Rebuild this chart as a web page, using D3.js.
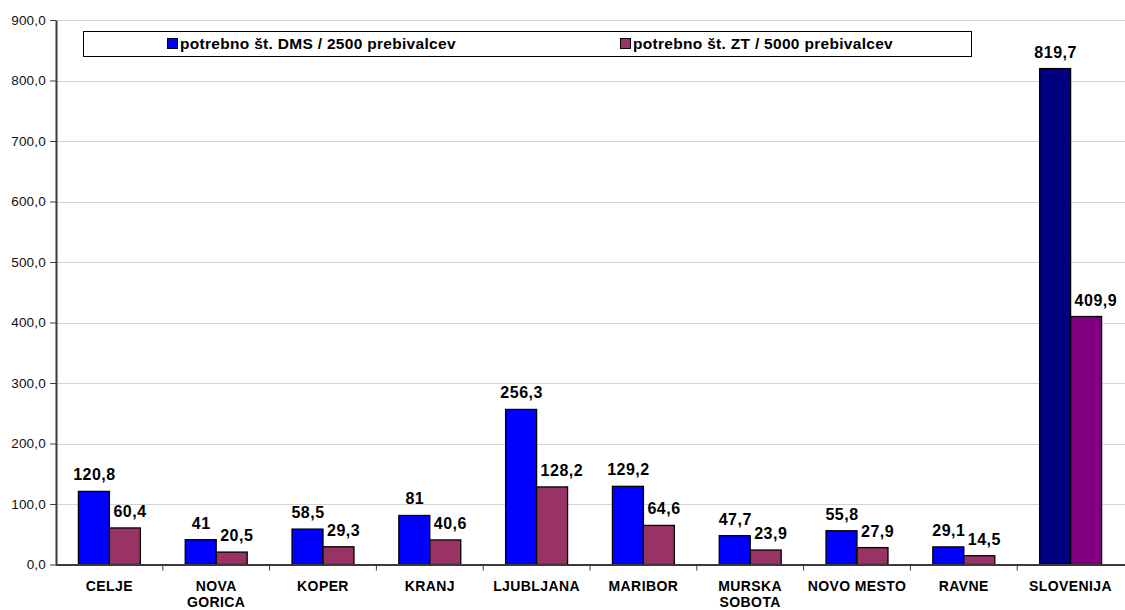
<!DOCTYPE html>
<html>
<head>
<meta charset="utf-8">
<script src="https://cdn.jsdelivr.net/npm/d3@7"></script>
<style>
  html, body { margin: 0; padding: 0; background: #fff; }
  svg { display: block; font-family: "Liberation Sans", Arial, sans-serif; }
</style>
</head>
<body>
<svg id="chart" width="1125" height="610"></svg>
<script>
// Regions and the two indicators per region
const categories = ["CELJE", "NOVA GORICA", "KOPER", "KRANJ", "LJUBLJANA", "MARIBOR", "MURSKA SOBOTA", "NOVO MESTO", "RAVNE", "SLOVENIJA"];
const dmsValues = [120.8, 41, 58.5, 81, 256.3, 129.2, 47.7, 55.8, 29.1, 819.7];
const ztValues  = [60.4, 20.5, 29.3, 40.6, 128.2, 64.6, 23.9, 27.9, 14.5, 409.9];
const dmsLabels = ["120,8", "41", "58,5", "81", "256,3", "129,2", "47,7", "55,8", "29,1", "819,7"];
const ztLabels  = ["60,4", "20,5", "29,3", "40,6", "128,2", "64,6", "23,9", "27,9", "14,5", "409,9"];
const seriesNames = ["potrebno št. DMS / 2500 prebivalcev", "potrebno št. ZT / 5000 prebivalcev"];
const yTicks = [0, 100, 200, 300, 400, 500, 600, 700, 800, 900];

const svg = d3.select("#chart");
const margin = { left: 56, right: 0, top: 20, bottom: 45 };
const W = 1125, H = 610;
const plotW = W - margin.left - margin.right - 1;

const x = d3.scaleBand().domain(categories).range([margin.left, margin.left + plotW]).paddingInner(0.42).paddingOuter(0.21);
const y = d3.scaleLinear().domain([0, 900]).range([564.5, margin.top]);

const fmt = v => d3.format(".1f")(v).replace(".", ",");

// grid lines
svg.append("g").selectAll("line").data(yTicks.filter(d => d > 0)).join("line")
  .attr("x1", margin.left).attr("x2", W)
  .attr("y1", d => Math.round(y(d)) + 0.5).attr("y2", d => Math.round(y(d)) + 0.5)
  .attr("stroke", "#d4d4d4").attr("stroke-width", 1);

// y axis
const yAxis = svg.append("g").attr("transform", `translate(${margin.left},0)`)
  .call(d3.axisLeft(y).tickValues(yTicks).tickFormat(fmt).tickSize(6).tickSizeOuter(0));
yAxis.select(".domain").attr("stroke", "#3a3a3a").attr("stroke-width", 2);
yAxis.selectAll(".tick line").attr("stroke", "#3a3a3a");
yAxis.selectAll(".tick text").attr("font-size", 13.5).attr("letter-spacing", 0.2).attr("fill", "#111").attr("x", -10);

// bars
const colorsDms = categories.map(c => c === "SLOVENIJA" ? "#000080" : "#0000ff");
const colorsZt  = categories.map(c => c === "SLOVENIJA" ? "#800080" : "#993366");

const groups = svg.append("g").selectAll("g").data(categories).join("g")
  .attr("transform", d => `translate(${x(d)},0)`);

groups.append("rect")
  .attr("x", 0).attr("width", x.bandwidth() / 2)
  .attr("y", (d, i) => y(dmsValues[i])).attr("height", (d, i) => y(0) - y(dmsValues[i]))
  .attr("fill", (d, i) => colorsDms[i]).attr("stroke", "#000").attr("stroke-width", 1.3);
groups.append("rect")
  .attr("x", x.bandwidth() / 2).attr("width", x.bandwidth() / 2)
  .attr("y", (d, i) => y(ztValues[i])).attr("height", (d, i) => y(0) - y(ztValues[i]))
  .attr("fill", (d, i) => colorsZt[i]).attr("stroke", "#000").attr("stroke-width", 1.3);

// value labels: centred over the first bar, starting just inside the second bar
const labelStyle = sel => sel.attr("font-size", 16).attr("font-weight", "bold")
  .attr("letter-spacing", 0.5).attr("fill", "#000");
groups.append("text")
  .attr("x", x.bandwidth() / 4 + 0.5).attr("y", (d, i) => y(dmsValues[i]) - 11)
  .attr("text-anchor", "middle")
  .call(labelStyle).text((d, i) => dmsLabels[i]);
groups.append("text")
  .attr("x", x.bandwidth() / 2 + 4).attr("y", (d, i) => y(ztValues[i]) - 11)
  .attr("text-anchor", "start")
  .call(labelStyle).text((d, i) => ztLabels[i]);

// x axis
const xAxisG = svg.append("g");
xAxisG.append("line").attr("x1", margin.left).attr("x2", W).attr("y1", y(0) + 0.5).attr("y2", y(0) + 0.5)
  .attr("stroke", "#3a3a3a").attr("stroke-width", 2);
xAxisG.selectAll("line.tick").data(d3.range(1, categories.length)).join("line").attr("class", "tick")
  .attr("x1", i => margin.left + i * x.step()).attr("x2", i => margin.left + i * x.step())
  .attr("y1", y(0)).attr("y2", y(0) + 6).attr("stroke", "#3a3a3a").attr("stroke-width", 1);

const catText = xAxisG.selectAll("text").data(categories).join("text")
  .attr("x", d => x(d) + x.bandwidth() / 2).attr("y", 591)
  .attr("text-anchor", "middle").attr("font-size", 14).attr("font-weight", "bold")
  .attr("letter-spacing", 0.4).attr("fill", "#000");
catText.each(function(d) {
  const parts = (d === "NOVA GORICA" || d === "MURSKA SOBOTA") ? d.split(" ") : [d];
  const t = d3.select(this);
  parts.forEach((p, k) => t.append("tspan").attr("x", x(d) + x.bandwidth() / 2).attr("dy", k === 0 ? 0 : 16).text(p));
});

// legend
const legend = svg.append("g");
legend.append("rect").attr("x", 83.5).attr("y", 31.5).attr("width", 888).attr("height", 25)
  .attr("fill", "#fff").attr("stroke", "#000").attr("stroke-width", 1);
const legendItems = [
  { x: 167, color: "#0000ff", name: seriesNames[0] },
  { x: 620, color: "#993366", name: seriesNames[1] }
];
legendItems.forEach(it => {
  legend.append("rect").attr("x", it.x + 0.5).attr("y", 38.5).attr("width", 10).attr("height", 10)
    .attr("fill", it.color).attr("stroke", "#000").attr("stroke-width", 1);
  legend.append("text").attr("x", it.x + 13).attr("y", 49).attr("font-size", 15.5).attr("font-weight", "bold")
    .attr("letter-spacing", 0.3).attr("fill", "#000").text(it.name);
});
</script>
</body>
</html>
